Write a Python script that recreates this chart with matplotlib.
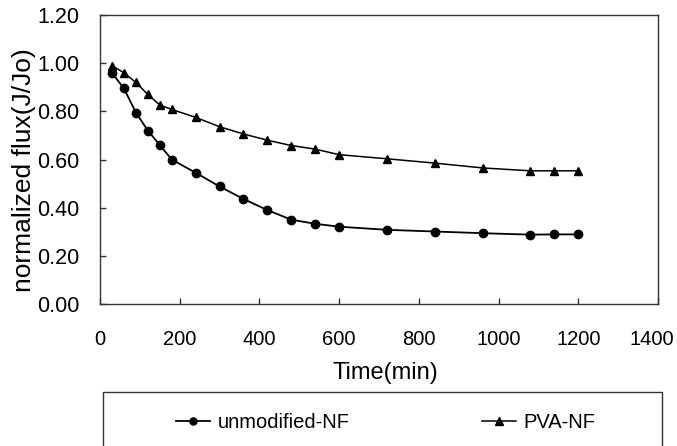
import matplotlib
matplotlib.use("Agg")
import matplotlib.pyplot as plt
from matplotlib.patches import Rectangle
from matplotlib.transforms import ScaledTranslation

plt.rcParams['font.family'] = ['Liberation Sans', 'DejaVu Sans']

time_min = [30, 60, 90, 120, 150, 180, 240, 300, 360, 420, 480, 540, 600, 720, 840, 960, 1080, 1140, 1200]
unmodified_nf = [0.96, 0.895, 0.795, 0.72, 0.66, 0.60, 0.545, 0.488, 0.436, 0.39, 0.35, 0.333, 0.321, 0.308, 0.301, 0.294, 0.288, 0.289, 0.289]
pva_nf = [0.99, 0.96, 0.92, 0.87, 0.826, 0.808, 0.775, 0.736, 0.706, 0.68, 0.658, 0.643, 0.62, 0.603, 0.585, 0.565, 0.553, 0.553, 0.553]
labels = ['unmodified-NF', 'PVA-NF']
xticks = [0, 200, 400, 600, 800, 1000, 1200, 1400]
yticks = [0.0, 0.2, 0.4, 0.6, 0.8, 1.0, 1.2]

W, H = 677, 446
fig = plt.figure(figsize=(W / 100, H / 100), dpi=100)
ax = fig.add_axes([100 / W, 1 - 304 / H, (658 - 100) / W, (304 - 15) / H])

ax.plot(time_min, unmodified_nf, color='black', lw=1.3, marker='o', ms=6, label=labels[0])
ax.plot(time_min, pva_nf, color='black', lw=1.1, marker='^', ms=6, label=labels[1])

ax.set_xlim(0, 1400)
ax.set_ylim(0, 1.2)
ax.set_xticks(xticks)
ax.set_yticks(yticks)
ax.set_xticklabels([str(v) for v in xticks], fontsize=14.5)
ax.set_yticklabels([f'{v:.2f}' for v in yticks], fontsize=15.5)
ax.tick_params(direction='in', length=4, width=1, color='#333333')
ax.tick_params(axis='x', pad=19)
ax.tick_params(axis='y', pad=15)
for s in ax.spines.values():
    s.set_linewidth(1.0)
    s.set_color('#333333')
last = ax.get_xticklabels()[-1]
last.set_transform(last.get_transform() + ScaledTranslation(-6 / 100, 0, fig.dpi_scale_trans))

ax.set_xlabel('Time(min)', fontsize=17)
ax.xaxis.label.set_va('center')
ax.xaxis.set_label_coords((385.5 - 100) / 558, (304 - 372.5) / 289)
ax.set_ylabel('normalized flux(J/Jo)', fontsize=19)
ax.yaxis.label.set_va('center')
ax.yaxis.set_label_coords((24 - 100) / 558, (304 - 170) / 289)

# legend box
fig.patches.append(Rectangle((103 / W, -0.02), (662 - 103) / W, (H - 392) / H + 0.02,
                             transform=fig.transFigure, fill=False, edgecolor='#333333',
                             lw=1.0, clip_on=False))
handles, labs = ax.get_legend_handles_labels()
fig.legend(handles, labs, loc='center left', bbox_to_anchor=(176 / W, 1 - 423 / H),
           ncol=2, frameon=False, prop={'size': 14.5}, handlelength=1.7,
           columnspacing=6.6, handletextpad=0.35, markerscale=0.85, borderpad=0,
           borderaxespad=0)

fig.savefig('out.png', dpi=100)
